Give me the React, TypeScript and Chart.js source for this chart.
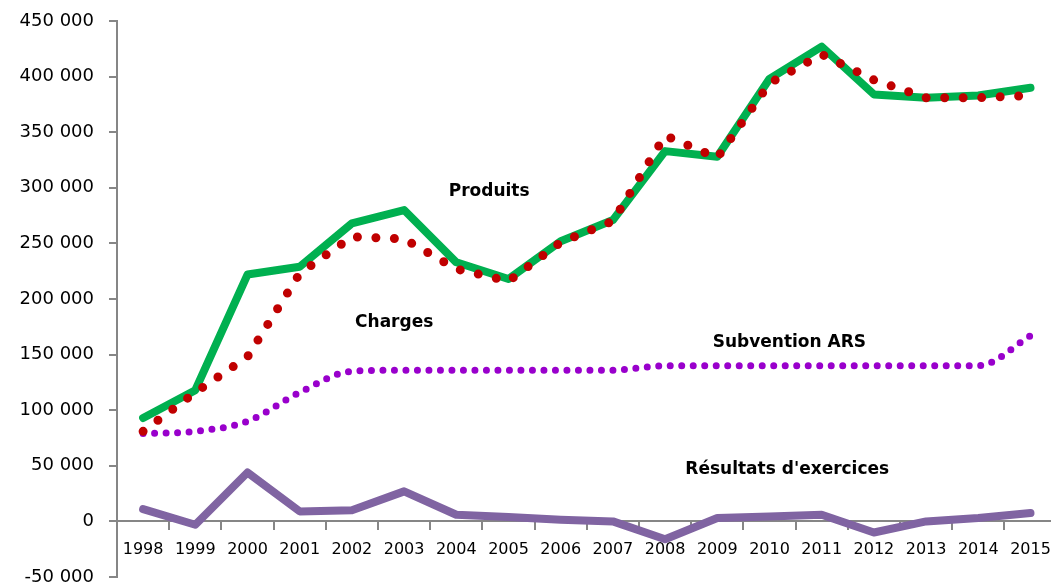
import React, { useEffect, useRef } from "react";
import { Chart, registerables } from "chart.js";

Chart.register(...registerables);

const years = ["1998","1999","2000","2001","2002","2003","2004","2005","2006","2007","2008","2009","2010","2011","2012","2013","2014","2015"];
const produits = [93000,118000,222000,229000,268000,280000,233000,218000,252000,271000,333000,328000,398000,427000,384000,381000,383000,390000];
const charges = [81000,116000,148000,223000,256000,254000,227000,216000,251000,270000,347000,327000,394000,420000,397000,381000,381000,383000];
const subvention = [79000,81000,90000,116000,135000,136000,136000,136000,136000,136000,140000,140000,140000,140000,140000,140000,140000,167000];
const resultats = [11000,-3000,44000,9000,10000,27000,6000,4000,1500,0,-16000,3000,4500,6000,-10000,0,3000,7500];
const yTickMin = -50000;
const yTickMax = 450000;
const yTickStep = 50000;

const seriesLabels = [
  { text: "Produits", x: 6.63, y: 297000 },
  { text: "Charges", x: 4.81, y: 179000 },
  { text: "Subvention ARS", x: 12.38, y: 161000 },
  { text: "Résultats d'exercices", x: 12.34, y: 46500 },
];

const fmt = (v: number) => {
  const s = Math.abs(v).toString().replace(/\B(?=(\d{3})+(?!\d))/g, " ");
  return (v < 0 ? "-" : "") + s;
};

const labelPlugin = {
  id: "seriesLabels",
  afterDatasetsDraw(chart: any) {
    const { ctx, scales } = chart;
    ctx.save();
    ctx.font = "bold 17px 'DejaVu Sans'";
    ctx.fillStyle = "#000";
    ctx.textAlign = "center";
    ctx.textBaseline = "middle";
    for (const l of seriesLabels) {
      ctx.fillText(l.text, scales.x.getPixelForValue(l.x), scales.y.getPixelForValue(l.y));
    }
    ctx.restore();
  },
};

export default function App() {
  const ref = useRef<HTMLCanvasElement | null>(null);
  useEffect(() => {
    if (!ref.current) return;
    Chart.defaults.font.family = "'DejaVu Sans'";
    const chart = new Chart(ref.current, {
      type: "line",
      data: {
        labels: years,
        datasets: [
          {
            label: "Charges",
            data: charges,
            borderColor: "#C00000",
            borderWidth: 9,
            borderDash: [0, 18.5],
            borderCapStyle: "round",
            pointRadius: 0,
            tension: 0,
            order: 1,
          },
          {
            label: "Produits",
            data: produits,
            borderColor: "#00B050",
            borderWidth: 8,
            borderJoinStyle: "round",
            borderCapStyle: "round",
            pointRadius: 0,
            tension: 0,
            order: 2,
          },
          {
            label: "Subvention ARS",
            data: subvention,
            borderColor: "#9900CC",
            borderWidth: 7,
            borderDash: [0, 11.5],
            borderCapStyle: "round",
            pointRadius: 0,
            cubicInterpolationMode: "monotone",
            order: 3,
          },
          {
            label: "Résultats d'exercices",
            data: resultats,
            borderColor: "#8064A2",
            borderWidth: 8,
            borderJoinStyle: "round",
            borderCapStyle: "round",
            pointRadius: 0,
            tension: 0,
            order: 0,
          },
        ],
      } as any,
      options: {
        animation: false,
        responsive: false,
        devicePixelRatio: 1,
        layout: { padding: { left: 0, right: 5, top: 21, bottom: 23 } },
        plugins: { legend: { display: false }, tooltip: { enabled: false } },
        scales: {
          x: {
            type: "category",
            position: { y: 0 } as any,
            offset: true,
            grid: {
              display: true,
              drawOnChartArea: false,
              drawTicks: true,
              tickLength: 8,
              color: "#868686",
              lineWidth: 2,
              offset: true,
            },
            border: { display: true, color: "#868686", width: 2 },
            ticks: {
              color: "#000",
              font: { size: 16 },
              padding: 11,
              maxRotation: 0,
              autoSkip: false,
            },
          },
          y: {
            min: yTickMin,
            max: yTickMax,
            afterFit: (s: any) => {
              s.width = 117;
              s.paddingTop = 0;
              s.paddingBottom = 0;
            },
            grid: {
              drawOnChartArea: false,
              drawTicks: true,
              tickLength: 8,
              color: "#868686",
              lineWidth: 2,
            },
            border: { display: true, color: "#868686", width: 2 },
            ticks: {
              stepSize: yTickStep,
              color: "#000",
              font: { size: 18 },
              padding: 15,
              callback: (v: any) => fmt(Number(v)),
            },
          },
        },
      } as any,
      plugins: [labelPlugin],
    });
    return () => chart.destroy();
  }, []);
  return (
    <div
      style={{
        position: "fixed",
        left: 0,
        top: 0,
        width: 1051,
        height: 587,
        overflow: "hidden",
        background: "#fff",
      }}
    >
      <canvas ref={ref} width={1062} height={600} style={{ width: 1062, height: 600 }} />
    </div>
  );
}
